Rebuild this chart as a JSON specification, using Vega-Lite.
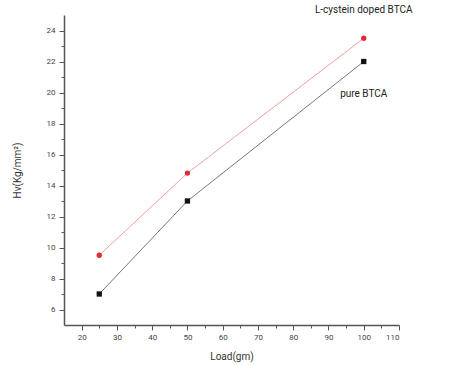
{
  "$schema": "https://vega.github.io/schema/vega-lite/v6.json",
  "width": 335,
  "height": 310,
  "autosize": {"type": "none"},
  "padding": {"left": 64, "top": 15, "right": 64, "bottom": 40},
  "background": "white",
  "config": {"view": {"stroke": null}, "font": "Roboto"},
  "datasets": {
    "pts": [
      {"load": 25, "hv": 7, "series": "pure BTCA"},
      {"load": 50, "hv": 13, "series": "pure BTCA"},
      {"load": 100, "hv": 22, "series": "pure BTCA"},
      {"load": 25, "hv": 9.5, "series": "L-cystein doped BTCA"},
      {"load": 50, "hv": 14.8, "series": "L-cystein doped BTCA"},
      {"load": 100, "hv": 23.5, "series": "L-cystein doped BTCA"}
    ],
    "labels": [
      {"load": 100, "hv": 25.3, "label": "L-cystein doped BTCA"},
      {"load": 100, "hv": 19.9, "label": "pure BTCA"}
    ]
  },
  "encoding": {
    "x": {
      "field": "load", "type": "quantitative",
      "scale": {"domain": [15, 110], "nice": false, "zero": false},
      "axis": {
        "title": "Load(gm)", "titleFontSize": 10, "titleFontWeight": "normal", "titleColor": "#333", "titlePadding": 10,
        "values": [20,25,30,35,40,45,50,55,60,65,70,75,80,85,90,95,100,105,110],
        "labelExpr": "datum.value % 10 === 0 ? datum.label : ''",
        "labelFontSize": 8, "labelColor": "#444", "labelPadding": 3,
        "tickSize": {"condition": {"test": "datum.value % 10 === 0", "value": 5}, "value": 3},
        "tickColor": "#555", "domainColor": "#555", "domainWidth": 1.5, "grid": false
      }
    },
    "y": {
      "field": "hv", "type": "quantitative",
      "scale": {"domain": [5, 25], "nice": false, "zero": false},
      "axis": {
        "title": "Hv(Kg/mm²)", "titleFontSize": 10, "titleFontWeight": "normal", "titleColor": "#333", "titlePadding": 24,
        "values": [6,7,8,9,10,11,12,13,14,15,16,17,18,19,20,21,22,23,24],
        "labelExpr": "datum.value % 2 === 0 ? datum.label : ''",
        "labelFontSize": 8, "labelColor": "#444", "labelPadding": 4,
        "tickSize": {"condition": {"test": "datum.value % 2 === 0", "value": 5}, "value": 3},
        "tickColor": "#555", "domainColor": "#555", "domainWidth": 1.5, "grid": false
      }
    }
  },
  "layer": [
    {
      "data": {"name": "pts"},
      "mark": {"type": "line", "strokeWidth": 1},
      "encoding": {
        "detail": {"field": "series"},
        "color": {"field": "series", "type": "nominal", "scale": {"domain": ["pure BTCA", "L-cystein doped BTCA"], "range": ["#777777", "#f0a0a0"]}, "legend": null}
      }
    },
    {
      "data": {"name": "pts"},
      "mark": {"type": "point", "filled": true, "opacity": 1},
      "encoding": {
        "color": {"field": "series", "type": "nominal", "scale": {"domain": ["pure BTCA", "L-cystein doped BTCA"], "range": ["#111111", "#e02a35"]}, "legend": null},
        "shape": {"field": "series", "type": "nominal", "scale": {"domain": ["pure BTCA", "L-cystein doped BTCA"], "range": ["square", "circle"]}, "legend": null},
        "size": {"value": 28}
      }
    },
    {
      "data": {"name": "labels"},
      "mark": {"type": "text", "fontSize": 10, "color": "#222", "align": "center", "baseline": "middle", "clip": false},
      "encoding": {"text": {"field": "label"}}
    }
  ],
  "resolve": {"scale": {"color": "independent"}}
}
